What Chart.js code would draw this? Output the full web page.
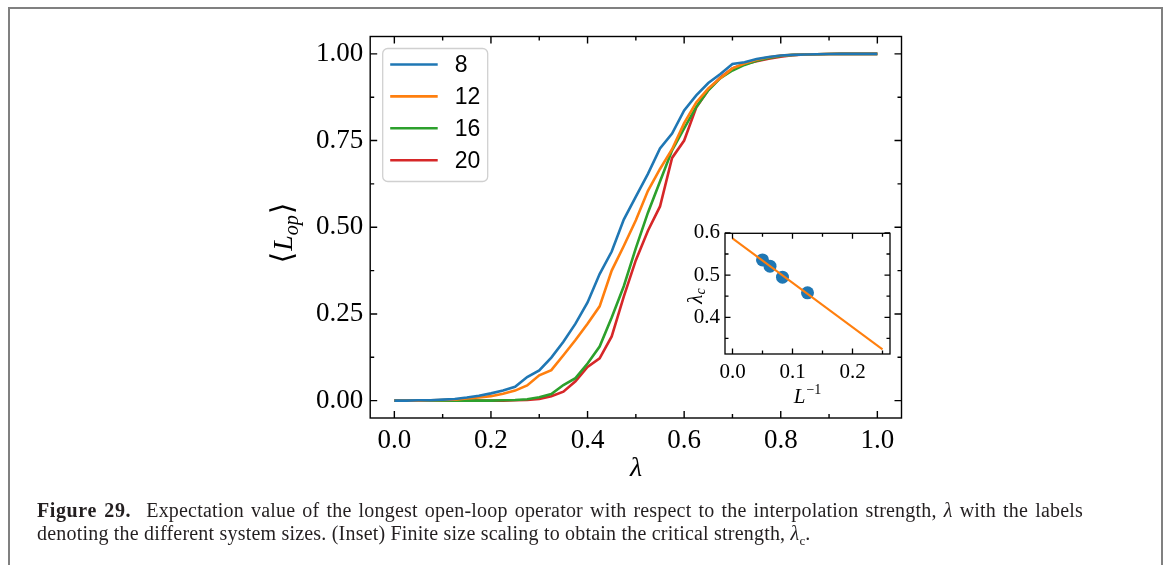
<!DOCTYPE html>
<html>
<head>
<meta charset="utf-8">
<script src="https://cdn.jsdelivr.net/npm/chart.js@4.4.0/dist/chart.umd.min.js"></script>
<style>
html, body { margin: 0; padding: 0; background: #fff; }
body { width: 1167px; height: 565px; position: relative; overflow: hidden; }
#frame { position: absolute; left: 8px; top: 7px; width: 1151px; height: 620px; border: 2px solid #808080; }
#main { position: absolute; left: 0; top: 0; }
#inset { position: absolute; left: 640px; top: 200px; }
#caption { position: absolute; left: 37px; top: 499px; width: 1046px; font-family: "Liberation Serif", serif; font-size: 20px; letter-spacing: 0.2px; line-height: 23px; color: #231f20; white-space: nowrap; }
#caption .first { text-align: justify; text-align-last: justify; }
#caption b { font-weight: bold; letter-spacing: 0.6px; margin-right: 8px; }
</style>
</head>
<body>
<div id="frame"></div>
<canvas id="main" width="1167" height="565"></canvas>
<canvas id="inset" width="270" height="210"></canvas>
<div id="caption">
  <div class="first"><b>Figure 29.</b> Expectation value of the longest open-loop operator with respect to the interpolation strength, <i>λ</i> with the labels</div>
  <div>denoting the different system sizes. (Inset) Finite size scaling to obtain the critical strength, <i>λ</i><sub style="font-size:13px">c</sub>.</div>
</div>
<script>
// --- data (main panel) ---
const lambdaVals = [0.000, 0.025, 0.050, 0.075, 0.100, 0.125, 0.150, 0.175, 0.200, 0.225,
                    0.250, 0.275, 0.300, 0.325, 0.350, 0.375, 0.400, 0.425, 0.450, 0.475,
                    0.500, 0.525, 0.550, 0.575, 0.600, 0.625, 0.650, 0.675, 0.700, 0.725,
                    0.750, 0.775, 0.800, 0.825, 0.850, 0.875, 0.900, 0.925, 0.950, 0.975, 1.000];
const lop8  = [0, 0, 0.001, 0.001, 0.003, 0.005, 0.009, 0.014, 0.021, 0.029,
               0.040, 0.068, 0.087, 0.124, 0.170, 0.222, 0.283, 0.365, 0.430, 0.522,
               0.588, 0.654, 0.727, 0.770, 0.837, 0.880, 0.916, 0.942, 0.971, 0.976,
               0.985, 0.991, 0.995, 0.997, 0.998, 0.999, 0.9995, 1, 1, 1, 1];
const lop12 = [0, 0, 0, 0.001, 0.002, 0.003, 0.006, 0.009, 0.013, 0.020,
               0.029, 0.044, 0.073, 0.088, 0.131, 0.175, 0.222, 0.272, 0.375, 0.446,
               0.520, 0.605, 0.668, 0.725, 0.800, 0.860, 0.900, 0.930, 0.958, 0.972,
               0.983, 0.990, 0.995, 0.997, 0.998, 0.999, 0.9995, 1, 1, 1, 1];
const lop16 = [0, 0, 0, 0, 0, 0, 0, 0, 0, 0.001,
               0.002, 0.004, 0.010, 0.019, 0.045, 0.065, 0.107, 0.156, 0.240, 0.330,
               0.440, 0.542, 0.632, 0.722, 0.785, 0.847, 0.895, 0.930, 0.952, 0.968,
               0.980, 0.988, 0.994, 0.997, 0.998, 0.999, 0.9995, 1, 1, 1, 1];
const lop20 = [0, 0, 0, 0, 0, 0, 0, 0, 0, 0,
               0.001, 0.002, 0.005, 0.013, 0.026, 0.056, 0.097, 0.122, 0.185, 0.300,
               0.405, 0.490, 0.560, 0.700, 0.750, 0.845, 0.896, 0.932, 0.958, 0.971,
               0.979, 0.986, 0.992, 0.996, 0.998, 0.999, 0.9995, 1, 1, 1, 1];
const sizeLabels = ['8', '12', '16', '20'];
const xMajorTicks = [0, 0.2, 0.4, 0.6, 0.8, 1.0];
const xMinorTicks = [0.1, 0.3, 0.5, 0.7, 0.9];
const yMajorTicks = [0, 0.25, 0.5, 0.75, 1.0];
const yMinorTicks = [0.125, 0.375, 0.625, 0.875];

// --- data (inset) ---
const invL = [0.05, 0.0625, 0.0833, 0.125];
const lambdaC = [0.536, 0.521, 0.495, 0.458];
const fitX = [0, 0.25];
const fitY = [0.587, 0.324];
const insetXMajor = [0, 0.1, 0.2];
const insetXMinor = [0.05, 0.15, 0.25];
const insetYMajor = [0.4, 0.5, 0.6];
const insetYMinor = [0.35, 0.45, 0.55];

const seriesColors = ['#1f77b4', '#ff7f0e', '#2ca02c', '#d62728'];
const serifFont = '"Liberation Serif", "DejaVu Serif", serif';
const mathFont = '"Liberation Serif", "DejaVu Serif", "DejaVu Sans", serif';

// --- plugins ---
// box + inward ticks on all four sides (matplotlib style)
const frameTicks = {
    id: 'frameTicks',
    afterDatasetsDraw(chart, args, o) {
        const { ctx, chartArea: a } = chart;
        const xs = chart.scales.x, ys = chart.scales.y;
        ctx.save();
        ctx.strokeStyle = '#000';
        ctx.lineWidth = o.lineWidth;
        ctx.beginPath();
        const vTick = (v, len) => {
            const px = xs.getPixelForValue(v);
            ctx.moveTo(px, a.bottom); ctx.lineTo(px, a.bottom - len);
            ctx.moveTo(px, a.top); ctx.lineTo(px, a.top + len);
        };
        const hTick = (v, len) => {
            const py = ys.getPixelForValue(v);
            ctx.moveTo(a.left, py); ctx.lineTo(a.left + len, py);
            ctx.moveTo(a.right, py); ctx.lineTo(a.right - len, py);
        };
        o.xMajor.forEach(v => vTick(v, o.major));
        o.xMinor.forEach(v => vTick(v, o.minor));
        o.yMajor.forEach(v => hTick(v, o.major));
        o.yMinor.forEach(v => hTick(v, o.minor));
        ctx.stroke();
        ctx.strokeRect(a.left, a.top, a.right - a.left, a.bottom - a.top);
        ctx.restore();
    }
};

// legend box in the upper left of the axes
const boxLegend = {
    id: 'boxLegend',
    afterDatasetsDraw(chart, args, o) {
        if (!o.show) return;
        const { ctx, chartArea: a } = chart;
        const x0 = a.left + 12.5, y0 = a.top + 12, w = 105, h = 133, r = 5;
        ctx.save();
        ctx.beginPath();
        ctx.roundRect(x0, y0, w, h, r);
        ctx.fillStyle = 'rgba(255,255,255,0.8)';
        ctx.fill();
        ctx.strokeStyle = '#d0d0d0';
        ctx.lineWidth = 1.3;
        ctx.stroke();
        ctx.font = '23px "Liberation Sans", Arial, sans-serif';
        ctx.textBaseline = 'middle';
        chart.data.datasets.forEach((ds, i) => {
            const yy = y0 + 16 + i * 31.9;
            ctx.strokeStyle = ds.borderColor;
            ctx.lineWidth = ds.borderWidth;
            ctx.beginPath();
            ctx.moveTo(x0 + 7.5, yy); ctx.lineTo(x0 + 55, yy);
            ctx.stroke();
            ctx.fillStyle = '#000';
            ctx.fillText(ds.label, x0 + 72, yy + 1);
        });
        ctx.restore();
    }
};

// axis titles with sub/superscripts
const richLabels = {
    id: 'richLabels',
    afterDraw(chart, args, o) {
        const ctx = chart.ctx;
        o.items.forEach(it => {
            ctx.save();
            ctx.translate(it.x, it.y);
            if (it.rot) ctx.rotate(it.rot);
            ctx.fillStyle = '#000';
            ctx.textBaseline = 'alphabetic';
            let total = 0;
            const widths = it.segs.map(s => { ctx.font = s.font; const w = ctx.measureText(s.t).width + (s.gap || 0); total += w; return w; });
            let cx = -total / 2;
            it.segs.forEach((s, i) => {
                ctx.font = s.font;
                ctx.fillText(s.t, cx, s.dy || 0);
                cx += widths[i];
            });
            ctx.restore();
        });
    }
};

// --- main chart ---
const lopSeries = [lop8, lop12, lop16, lop20];

new Chart(document.getElementById('main'), {
    type: 'line',
    data: {
        datasets: sizeLabels.map((lab, i) => ({
            label: lab,
            data: lambdaVals.map((l, j) => ({ x: l, y: lopSeries[i][j] })),
            borderColor: seriesColors[i],
            borderWidth: 2.6,
            pointRadius: 0,
            tension: 0,
            fill: false
        }))
    },
    options: {
        responsive: false,
        animation: false,
        layout: { padding: { left: 270.2, right: 265.5, top: 36.5, bottom: 87 } },
        scales: {
            x: {
                type: 'linear', min: -0.05, max: 1.05,
                afterFit: s => { s.height = 60; },
                afterBuildTicks: s => { s.ticks = xMajorTicks.map(v => ({ value: v })); },
                grid: { display: false, drawTicks: false },
                border: { display: false },
                ticks: { padding: 7, maxRotation: 0, color: '#000', font: { family: serifFont, size: 27 }, callback: v => v.toFixed(1) }
            },
            y: {
                type: 'linear', min: -0.05, max: 1.05,
                afterFit: s => { s.width = 100; },
                afterBuildTicks: s => { s.ticks = yMajorTicks.map(v => ({ value: v })); },
                grid: { display: false, drawTicks: false },
                border: { display: false },
                ticks: { padding: 7, color: '#000', font: { family: serifFont, size: 27 }, callback: v => v.toFixed(2) }
            }
        },
        plugins: {
            legend: { display: false },
            tooltip: { enabled: false },
            frameTicks: { lineWidth: 1.4, major: 7, minor: 4, xMajor: xMajorTicks, xMinor: xMinorTicks, yMajor: yMajorTicks, yMinor: yMinorTicks },
            boxLegend: { show: true },
            richLabels: {
                items: [
                    { x: 636, y: 476, segs: [{ t: 'λ', font: 'italic 28px ' + mathFont }] },
                    { x: 292, y: 233, rot: -Math.PI / 2, segs: [
                        { t: '⟨', font: '30px ' + mathFont, gap: 1 },
                        { t: 'L', font: 'italic 28px ' + mathFont },
                        { t: 'op', font: 'italic 20px ' + mathFont, dy: 6, gap: 1 },
                        { t: '⟩', font: '30px ' + mathFont }
                    ] }
                ]
            }
        }
    },
    plugins: [frameTicks, boxLegend, richLabels]
});

// --- inset chart ---
new Chart(document.getElementById('inset'), {
    type: 'scatter',
    data: {
        datasets: [
            {
                type: 'line',
                data: fitX.map((v, i) => ({ x: v, y: fitY[i] })),
                borderColor: seriesColors[1],
                borderWidth: 2,
                pointRadius: 0,
                fill: false
            },
            {
                data: invL.map((v, i) => ({ x: v, y: lambdaC[i] })),
                backgroundColor: seriesColors[0],
                borderColor: seriesColors[0],
                pointRadius: 6.5,
                borderWidth: 0
            }
        ]
    },
    options: {
        responsive: false,
        animation: false,
        layout: { padding: { left: 45, right: 20, top: 33.3, bottom: 20 } },
        scales: {
            x: {
                type: 'linear', min: -0.0125, max: 0.2625,
                afterFit: s => { s.height = 36; },
                afterBuildTicks: s => { s.ticks = insetXMajor.map(v => ({ value: v })); },
                grid: { display: false, drawTicks: false },
                border: { display: false },
                ticks: { padding: 6, maxRotation: 0, color: '#000', font: { family: serifFont, size: 21 }, callback: v => v.toFixed(1) }
            },
            y: {
                type: 'linear', min: 0.313, max: 0.599,
                afterFit: s => { s.width = 40; },
                afterBuildTicks: s => { s.ticks = insetYMajor.map(v => ({ value: v })); },
                grid: { display: false, drawTicks: false },
                border: { display: false },
                ticks: { padding: 5, color: '#000', font: { family: serifFont, size: 21 }, callback: v => v.toFixed(1) }
            }
        },
        plugins: {
            legend: { display: false },
            tooltip: { enabled: false },
            frameTicks: { lineWidth: 1.3, major: 5.5, minor: 3.5, xMajor: insetXMajor, xMinor: insetXMinor, yMajor: insetYMajor, yMinor: insetYMinor },
            richLabels: {
                items: [
                    { x: 167.5, y: 203, segs: [
                        { t: 'L', font: 'italic 21px ' + mathFont, gap: 1 },
                        { t: '−1', font: '14px ' + mathFont, dy: -9 }
                    ] },
                    { x: 62, y: 96, rot: -Math.PI / 2, segs: [
                        { t: 'λ', font: 'italic 21px ' + mathFont },
                        { t: 'c', font: 'italic 14px ' + mathFont, dy: 3 }
                    ] }
                ]
            }
        }
    },
    plugins: [frameTicks, richLabels]
});
</script>
</body>
</html>
